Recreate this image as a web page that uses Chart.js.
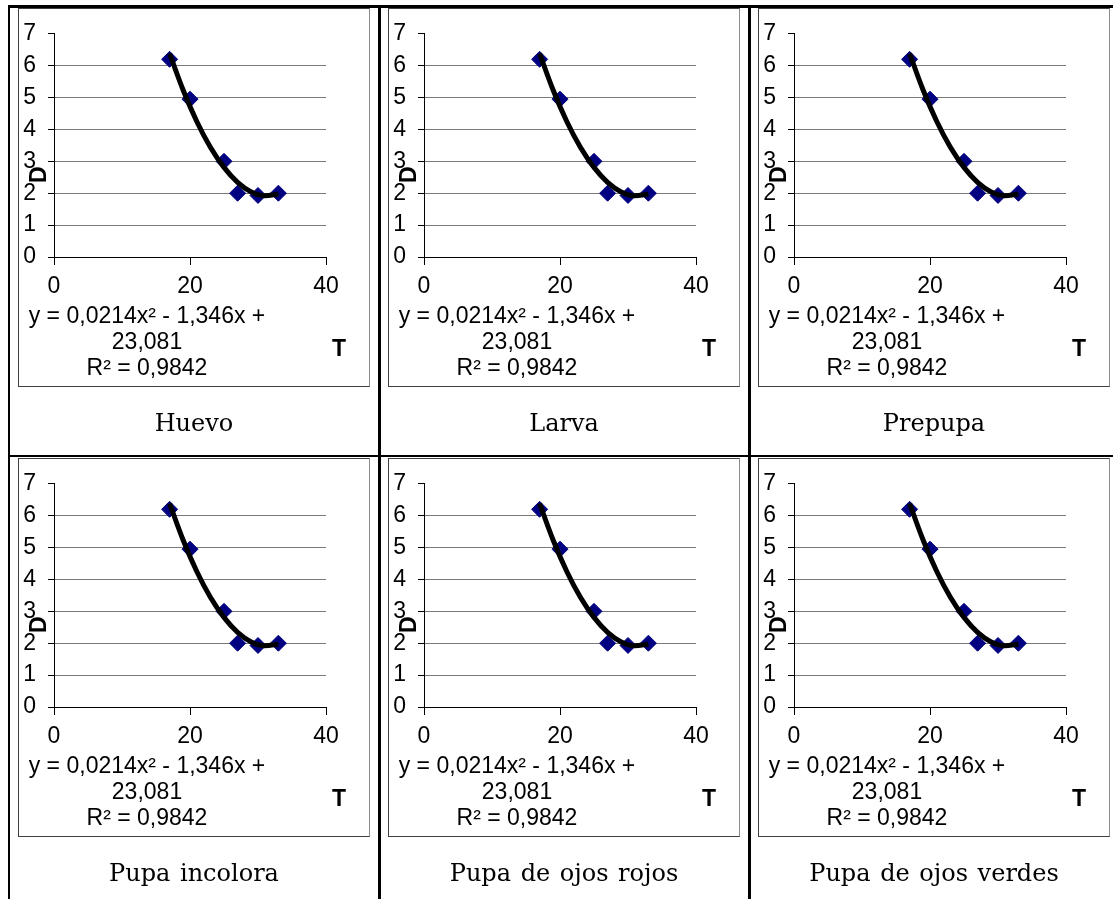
<!DOCTYPE html>
<html>
<head>
<meta charset="utf-8">
<script src="https://cdn.jsdelivr.net/npm/chart.js@4.4.1/dist/chart.umd.min.js"></script>
<style>
  body { margin: 0; background: #fff; width: 1113px; height: 899px; overflow: hidden; position: relative; }
  .line { position: absolute; background: #000; }
  .box { position: absolute; width: 352px; height: 379px; }
  .box canvas { position: absolute; left: 0; top: 0; }
  .frame { position: absolute; left: 0; top: 0; right: 0; bottom: 0; border: 1px solid #404040; border-right-color: #8c8c8c; pointer-events: none; }
  .caption { position: absolute; width: 352px; text-align: center; font-family: 'DejaVu Serif', serif; font-size: 24px; word-spacing: 2px; line-height: 30px; }
</style>
</head>
<body>
<script>
// data (same for every stage)
const stages = ['Huevo', 'Larva', 'Prepupa', 'Pupa incolora', 'Pupa de ojos rojos', 'Pupa de ojos verdes'];
const temps = [17, 20, 25, 27, 30, 33];
const days = [6.2, 4.95, 3.0, 2.0, 1.93, 2.0];
// polynomial trendline, sampled off the drawn curve
const trendT = [17, 19, 21, 23, 25, 27, 29, 31, 33];
const trendD = [6.38, 5.23, 4.25, 3.44, 2.81, 2.34, 2.04, 1.92, 1.97];
const xTicks = [0, 20, 40];
const yMax = 7;
const eqLines = ['y = 0,0214x\u00b2 - 1,346x +', '23,081', 'R\u00b2 = 0,9842'];

const colLeft = [18, 388, 758];
const rowTop = [8, 458];

Chart.defaults.font.family = "'Liberation Sans', Arial, sans-serif";
Chart.defaults.font.size = 23;
Chart.defaults.color = '#000';

// table rules
function rule(l, t, w, h) {
    const d = document.createElement('div');
    d.className = 'line';
    d.style.left = l + 'px'; d.style.top = t + 'px';
    d.style.width = w + 'px'; d.style.height = h + 'px';
    document.body.appendChild(d);
}
rule(8, 5, 1105, 3);
rule(8, 5, 2, 894);
rule(378, 5, 3, 894);
rule(748, 5, 3, 894);
rule(8, 455, 1105, 2);

const textPlugin = {
    id: 'panelText',
    afterDraw(chart) {
        const ctx = chart.ctx;
        const a = chart.chartArea;
        ctx.save();
        ctx.fillStyle = '#000';
        ctx.textAlign = 'center';
        ctx.textBaseline = 'middle';
        ctx.font = "23px 'Liberation Sans', Arial, sans-serif";
        eqLines.forEach((t, i) => ctx.fillText(t, a.left + 93, a.bottom + 60 + i * 25.7));
        ctx.font = "bold 23px 'Liberation Sans', Arial, sans-serif";
        ctx.fillText('T', a.right + 13, a.bottom + 93);
        ctx.translate(a.left - 14, a.top + 141);
        ctx.rotate(-Math.PI / 2);
        ctx.fillText('D', 0, 0);
        ctx.restore();
    }
};

stages.forEach((name, i) => {
    const left = colLeft[i % 3];
    const top = rowTop[Math.floor(i / 3)];

    const box = document.createElement('div');
    box.className = 'box';
    box.style.left = left + 'px';
    box.style.top = top + 'px';
    const canvas = document.createElement('canvas');
    canvas.width = 352;
    canvas.height = 379;
    box.appendChild(canvas);
    const frame = document.createElement('div');
    frame.className = 'frame';
    box.appendChild(frame);
    document.body.appendChild(box);

    const cap = document.createElement('div');
    cap.className = 'caption';
    cap.style.left = left + 'px';
    cap.style.top = (top + 400) + 'px';
    cap.textContent = name;
    document.body.appendChild(cap);

    new Chart(canvas, {
        type: 'scatter',
        data: {
            datasets: [{
                label: 'tendencia',
                data: trendT.map((t, k) => ({ x: t, y: trendD[k] })),
                showLine: true,
                borderColor: '#000',
                borderWidth: 5,
                pointRadius: 0,
                cubicInterpolationMode: 'monotone',
                fill: false
            }, {
                label: 'D',
                data: temps.map((t, k) => ({ x: t, y: days[k] })),
                pointStyle: 'rectRot',
                pointRadius: 8,
                pointBackgroundColor: '#000080',
                pointBorderColor: '#000080',
                pointBorderWidth: 1
            }]
        },
        options: {
            responsive: false,
            animation: false,
            layout: { padding: { left: 0, top: 21, right: 44, bottom: 90 } },
            plugins: {
                legend: { display: false },
                title: { display: false },
                tooltip: { enabled: false }
            },
            scales: {
                x: {
                    type: 'linear',
                    min: 0,
                    max: 40,
                    afterBuildTicks: (s) => { s.ticks = xTicks.map(v => ({ value: v })); },
                    afterFit: (s) => { s.height = 40; },
                    grid: { drawOnChartArea: false, drawTicks: true, tickLength: 8, tickColor: '#000' },
                    border: { color: '#000', width: 1 },
                    ticks: { padding: 8, color: '#000' }
                },
                y: {
                    min: 0,
                    max: yMax,
                    afterFit: (s) => { s.width = 36; },
                    grid: {
                        color: (c) => (c.tick && (c.tick.value === 0 || c.tick.value === yMax)) ? 'rgba(0,0,0,0)' : '#7a7a7a',
                        tickColor: '#000',
                        tickLength: 6
                    },
                    border: { color: '#000', width: 1 },
                    ticks: { stepSize: 1, padding: 12, color: '#000' }
                }
            }
        },
        plugins: [textPlugin]
    });
});
</script>
</body>
</html>
